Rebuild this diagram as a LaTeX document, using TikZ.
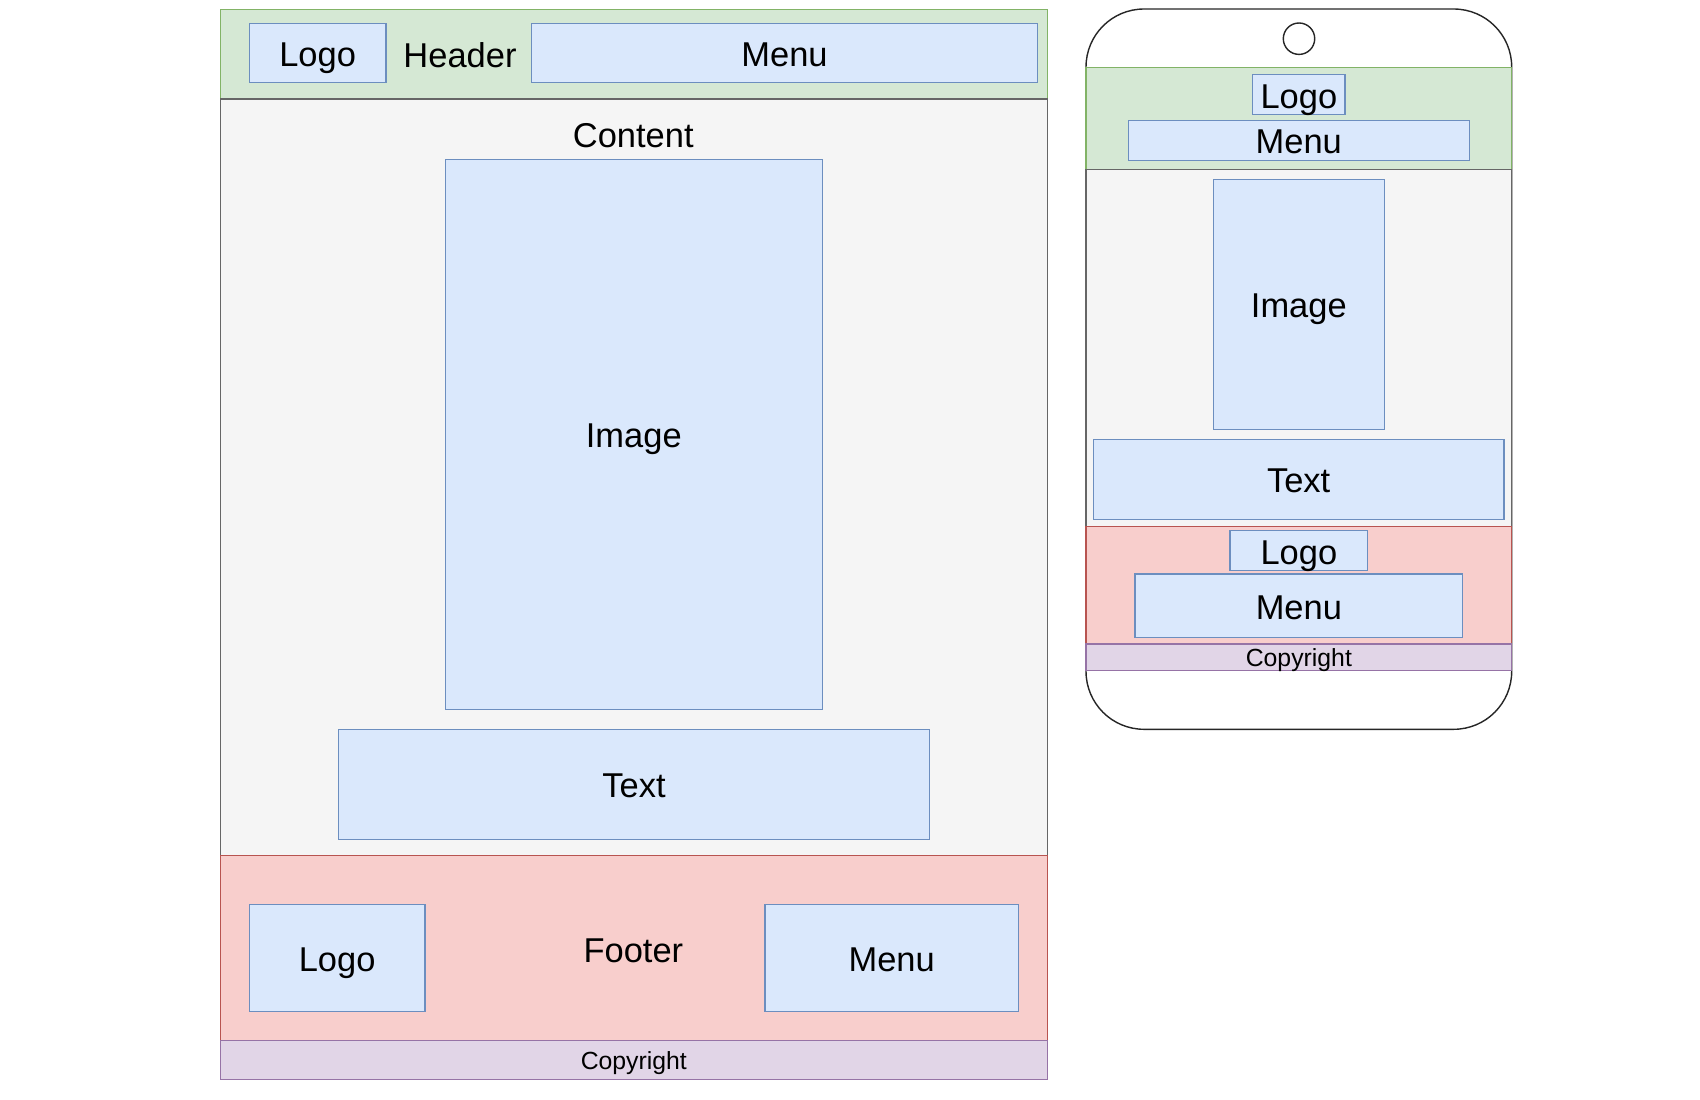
\documentclass[tikz,border=0pt]{standalone}
\usepackage{fontspec}
\setmainfont{Liberation Sans}
\usetikzlibrary{fit}
\definecolor{headgreen}{HTML}{D5E8D4}
\definecolor{headgreenline}{HTML}{82B366}
\definecolor{bodygray}{HTML}{F5F5F5}
\definecolor{bodygrayline}{HTML}{666666}
\definecolor{footred}{HTML}{F8CECC}
\definecolor{footredline}{HTML}{B85450}
\definecolor{copypurple}{HTML}{E1D5E7}
\definecolor{copypurpleline}{HTML}{9673A6}
\definecolor{boxblue}{HTML}{DAE8FC}
\definecolor{boxblueline}{HTML}{6C8EBF}
\newcommand{\labelfont}{\fontsize{9.8pt}{12pt}\selectfont}
\newcommand{\smallfont}{\fontsize{7.05pt}{9pt}\selectfont}

\begin{document}
\begin{tikzpicture}[x=0.01cm, y=-0.01cm,
    band/.style={draw, inner sep=0pt, line width=0.4pt},
    greenband/.style={band, fill=headgreen, draw=headgreenline},
    grayband/.style={band, fill=bodygray, draw=bodygrayline},
    redband/.style={band, fill=footred, draw=footredline},
    biglabel/.style={font=\labelfont, inner sep=0pt, text height=9.33pt, text depth=1.62pt},
    smalllabel/.style={font=\smallfont, inner sep=0pt, text height=6.7pt, text depth=1.17pt},
    purpleband/.style={band, fill=copypurple, draw=copypurpleline,
        label={[smalllabel]center:#1}},
    bluebox/.style={band, fill=boxblue, draw=boxblueline,
        label={[biglabel]center:#1}},
    phonebody/.style={draw=black!85, fill=white, inner sep=0pt, line width=0.4pt, rounded corners=0.58cm}]
\useasboundingbox (0,0) rectangle (1700,1100);

% Desktop page
\node[greenband, fit={(220.3,9.3) (1047.3,99)}] (hdr) {};
\node[grayband, fit={(220.3,99) (1047.3,855.3)}] (body) {};
\node[redband, fit={(220.3,855.3) (1047.3,1040.7)}] (ftr) {};
\node[purpleband=Copyright, fit={(220.3,1040.7) (1047.3,1079.3)}] (copy) {};

% Header contents
\node[bluebox=Logo, fit={(249.3,23.7) (386,82.3)}] (hdrlogo) {};
\node[biglabel] (hdrlabel) at (460,54) {Header};
\node[bluebox=Menu, fit={(531.3,23.7) (1037.7,82.3)}] (hdrmenu) {};

% Content
\node[biglabel] (bodylabel) at (633.3,134) {Content};
\node[bluebox=Image, fit={(445.3,159.3) (822.3,709.3)}] (image) {};
\node[bluebox=Text, fit={(338.6,729.3) (929.4,839.3)}] (text) {};

% Footer contents
\node[bluebox=Logo, fit={(249.3,904.3) (425,1011.7)}] (ftrlogo) {};
\node[biglabel] (ftrlabel) at (633.4,949) {Footer};
\node[bluebox=Menu, fit={(765,904.3) (1018.3,1011.7)}] (ftrmenu) {};

% Phone
\node[phonebody, fit={(1086,9) (1511.7,729.3)}] (phone) {};
\node[draw=black!85, fill=white, circle, minimum size=0.314cm, inner sep=0pt, line width=0.4pt] (camera) at (1299,38.7) {};

\node[greenband, fit={(1086,67.7) (1511.7,169.3)}] (mhdr) {};
\node[grayband, fit={(1086,169.3) (1511.7,526.3)}] (mbody) {};
\node[redband, fit={(1086,526.3) (1511.7,644)}] (mftr) {};
\node[purpleband=Copyright, fit={(1086,644) (1511.7,670.3)}] (mcopy) {};

\node[bluebox=Logo, fit={(1252.7,74.7) (1345,114.3)}] (mhdrlogo) {};
\node[bluebox=Menu, fit={(1128.3,120.3) (1469.3,160.3)}] (mhdrmenu) {};
\node[bluebox=Image, fit={(1213.3,179.3) (1384.3,429.3)}] (mimage) {};
\node[bluebox=Text, fit={(1093.3,439.3) (1504,519.3)}] (mtext) {};
\node[bluebox=Logo, fit={(1230,530.7) (1367.7,570.3)}] (mftrlogo) {};
\node[bluebox=Menu, fit={(1135,574) (1462.7,637.3)}] (mftrmenu) {};
\end{tikzpicture}
\end{document}
